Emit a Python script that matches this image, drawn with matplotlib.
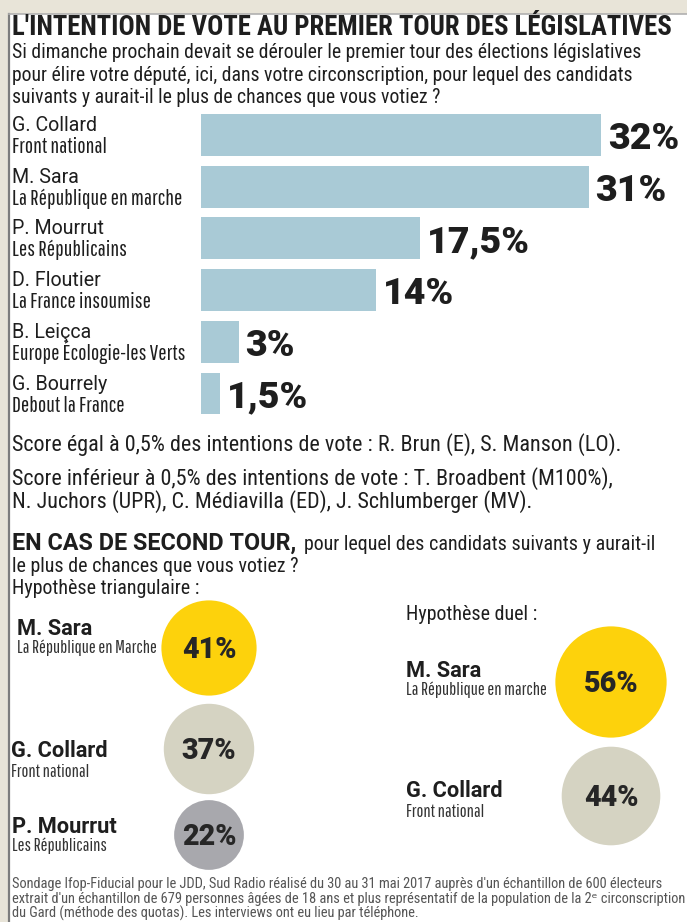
"""Intention de vote — législatives 2017, 2e circonscription du Gard (Ifop-Fiducial)."""

import matplotlib
matplotlib.use("Agg")
import matplotlib.pyplot as plt
from matplotlib import font_manager

W, H = 687, 922

# premier tour
candidats = ["G. Collard", "M. Sara", "P. Mourrut", "D. Floutier", "B. Leiçca", "G. Bourrely"]
partis = ["Front national", "La République en marche", "Les Républicains",
          "La France insoumise", "Europe Écologie-les Verts", "Debout la France"]
scores = [32, 31, 17.5, 14, 3, 1.5]

# second tour
tri_noms = ["M. Sara", "G. Collard", "P. Mourrut"]
tri_partis = ["La République en Marche", "Front national", "Les Républicains"]
tri_scores = [41, 37, 22]
duel_noms = ["M. Sara", "G. Collard"]
duel_partis = ["La République en marche", "Front national"]
duel_scores = [56, 44]

BG = "#e8e4d8"
BAR = "#a9cad6"
INK = "#1e1e1e"
BUBBLE = {"M. Sara": "#fdd20c", "G. Collard": "#d5d3c2", "P. Mourrut": "#a8a8ad"}


def _pick(cands):
    avail = {f.name for f in font_manager.fontManager.ttflist}
    for c in cands:
        if c in avail:
            return c
    return "DejaVu Sans"


NARROW = [_pick(["Roboto Condensed", "Liberation Sans Narrow", "Archivo Narrow"]), "DejaVu Sans"]
PARTY = [_pick(["Pathway Gothic One", "Sofia Sans Extra Condensed", "Fira Sans Extra Condensed",
                "Roboto Condensed"]), "DejaVu Sans"]
SANS = [_pick(["Roboto", "Liberation Sans", "Arial"]), "DejaVu Sans"]


def fr(v):
    return f"{v:g}".replace(".", ",") + "%"


fig = plt.figure(figsize=(W / 100, H / 100), dpi=100)
fig.patch.set_facecolor(BG)
renderer = fig.canvas.get_renderer()

ax = fig.add_axes([0, 0, 1, 1])
ax.set_xlim(0, W)
ax.set_ylim(H, 0)
ax.axis("off")

# panneau blanc + liseré
ax.add_patch(plt.Rectangle((9, 14), W, H, facecolor="white", edgecolor="none", zorder=0))
ax.plot([9, 9], [14, H], color="#7d7d7d", lw=1.6, zorder=1)
ax.plot([9, W], [14, 14], color="#b0b0b0", lw=1.2, zorder=1)


def txt(x, y, s, width=None, size=12, **kw):
    """Texte posé sur sa ligne de base ; si width est donné, la taille est ajustée à cette largeur (px)."""
    kw.setdefault("color", INK)
    kw.setdefault("family", NARROW)
    t = ax.text(x, y, s, fontsize=size, va="baseline", ha=kw.pop("ha", "left"), **kw)
    if width:
        w = t.get_window_extent(renderer).width
        t.set_fontsize(size * width / w)
    return t


def fit_size(s, width, size=12, **kw):
    t = txt(0, 0, s, width=width, size=size, **kw)
    fs = t.get_fontsize()
    t.remove()
    return fs


# titre
txt(12, 35, "L'INTENTION DE VOTE AU PREMIER TOUR DES LÉGISLATIVES", width=660, size=18,
    weight="bold")

sub = txt(12, 58, "Si dimanche prochain devait se dérouler le premier tour des élections législatives",
          width=636, size=14)
fs = sub.get_fontsize()
txt(12, 81, "pour élire votre député, ici, dans votre circonscription, pour lequel des candidats", size=fs)
txt(12, 103, "suivants y aurait-il le plus de chances que vous votiez ?", size=fs)

# barres
ROW0, STEP = 135, 51.7
top = ROW0 - STEP / 2
bottom = ROW0 + STEP * (len(scores) - 0.5)
bax = fig.add_axes([201 / W, 1 - bottom / H, 400 / W, (bottom - top) / H])
bax.barh(range(len(scores)), scores, height=0.81, color=BAR)
bax.set_xlim(0, max(scores))
bax.set_ylim(len(scores) - 0.5, -0.5)
bax.axis("off")

pct = fit_size(fr(scores[0]), 71, size=20, family=SANS, weight="heavy")
for i, v in enumerate(scores):
    bax.annotate(fr(v), (v, i), xytext=(7, -14), textcoords="offset pixels",
                 va="baseline", ha="left", family=SANS, weight="heavy", color=INK,
                 fontsize=pct)

nfs = fit_size(candidats[0], 85, size=13, family=SANS)
pfs = fit_size(partis[1], 168, size=13, family=PARTY)
for i, (n, p) in enumerate(zip(candidats, partis)):
    y = ROW0 + i * STEP
    txt(12, y - 4, n, size=nfs, family=SANS)
    txt(12, y + 18, p, size=pfs, family=PARTY)

# petits candidats
s1 = txt(12, 451, "Score égal à 0,5% des intentions de vote : R. Brun (E), S. Manson (LO).",
         width=615, size=14)
fs = s1.get_fontsize()
txt(12, 485, "Score inférieur à 0,5% des intentions de vote : T. Broadbent (M100%),", size=fs)
txt(12, 508, "N. Juchors (UPR), C. Médiavilla (ED), J. Schlumberger (MV).", size=fs)

# second tour
txt(12, 550, "EN CAS DE SECOND TOUR,", width=286, size=14, family=SANS, weight="bold")
q = txt(304, 550, "pour lequel des candidats suivants y aurait-il", width=349, size=13)
fs = q.get_fontsize()
txt(12, 572, "le plus de chances que vous votiez ?", size=fs)
txt(12, 594, "Hypothèse triangulaire :", size=fs)
txt(406, 620, "Hypothèse duel :", size=fs)

K = 114.6  # surface des bulles proportionnelle au score (pt² par point de %)
tri_y = [648, 749, 835]
duel_y = [682, 796]
ax.scatter([209] * 3, tri_y, s=[K * v for v in tri_scores],
           color=[BUBBLE[n] for n in tri_noms], edgecolors="none", zorder=2)
ax.scatter([611] * 2, duel_y, s=[K * v for v in duel_scores],
           color=[BUBBLE[n] for n in duel_noms], edgecolors="none", zorder=2)

bfs = fit_size(fr(tri_scores[0]), 55, size=16, family=SANS, weight="heavy")
for x, ys, vals in ((209, tri_y, tri_scores), (611, duel_y, duel_scores)):
    for y, v in zip(ys, vals):
        ax.text(x, y + 2, fr(v), ha="center", va="center", family=SANS,
                weight="heavy", color="#262626", fontsize=bfs, zorder=3)

tri_lab = [(17, 635, 653), (11, 757, 777), (12, 833, 851)]
duel_lab = [(406, 677, 695), (406, 797, 817)]
nfs = fit_size(tri_noms[0], 76, size=15, family=SANS, weight="bold")
pfs = fit_size(tri_partis[0], 140, size=12, family=PARTY)
for labs, noms, pts in ((tri_lab, tri_noms, tri_partis), (duel_lab, duel_noms, duel_partis)):
    for (x, yn, yp), n, p in zip(labs, noms, pts):
        txt(x, yn, n, size=nfs, family=SANS, weight="bold")
        txt(x, yp, p, size=pfs, family=PARTY, color="#333333")

# source
f1 = txt(12, 888, "Sondage Ifop-Fiducial pour le JDD, Sud Radio réalisé du 30 au 31 mai 2017 auprès "
         "d'un échantillon de 600 électeurs", width=657, size=9, color="#555555")
fs = f1.get_fontsize()
txt(12, 903, "extrait d'un échantillon de 679 personnes âgées de 18 ans et plus représentatif de la "
    "population de la 2ᵉ circonscription", size=fs, color="#555555")
txt(12, 918, "du Gard (méthode des quotas). Les interviews ont eu lieu par téléphone.",
    size=fs, color="#555555")

fig.savefig("out.png", dpi=100, facecolor=BG)
